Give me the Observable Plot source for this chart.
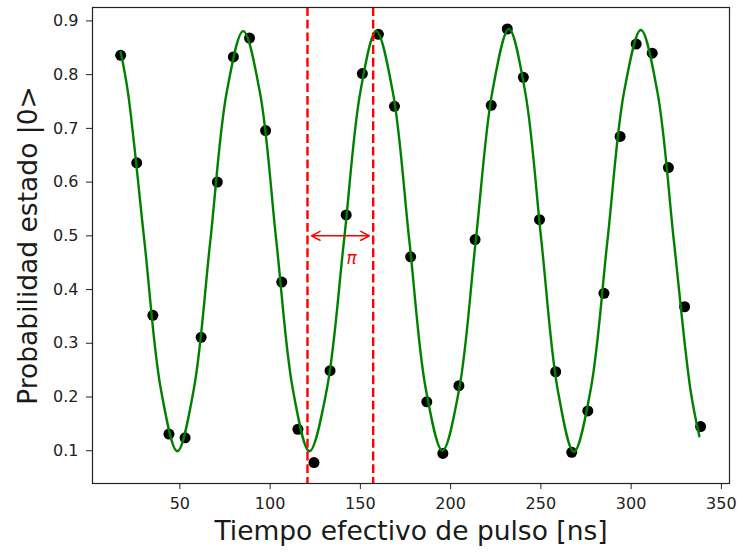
<!DOCTYPE html>
<html>
<head>
<meta charset="utf-8">
<script src="https://cdn.jsdelivr.net/npm/d3@7"></script>
<script src="https://cdn.jsdelivr.net/npm/@observablehq/plot@0.6"></script>
<style>
  html, body { margin: 0; padding: 0; background: #fff; }
</style>
</head>
<body>
<div id="chart"></div>
<script>
// Measured data points (pulse time in ns, probability of |0>)
const tiempo = [17.2, 26.1, 35.05, 43.95, 52.9, 61.8, 70.75, 79.65, 88.6, 97.5,
  106.45, 115.4, 124.3, 133.2, 142.15, 151.1, 160.0, 168.9, 177.85, 186.8,
  195.7, 204.6, 213.55, 222.5, 231.4, 240.3, 249.25, 258.2, 267.1, 276.0,
  284.95, 293.9, 302.8, 311.7, 320.65, 329.6, 338.5];
const probabilidad = [0.836, 0.636, 0.352, 0.131, 0.124, 0.311, 0.600, 0.833, 0.868, 0.696,
  0.414, 0.140, 0.078, 0.249, 0.539, 0.802, 0.875, 0.741, 0.461, 0.191,
  0.095, 0.221, 0.493, 0.743, 0.885, 0.795, 0.530, 0.247, 0.097, 0.174,
  0.393, 0.685, 0.857, 0.840, 0.627, 0.368, 0.145];

// Fit curve at peaks, troughs and intermediate phases
const ajusteX = [17.2, 21.2, 30.35, 39.5, 48.6,
  57.7, 66.85, 76.0, 85.1,
  94.3, 103.45, 112.6, 121.8,
  131.4, 140.9, 150.0, 158.8,
  167.95, 177.15, 186.3, 195.5,
  204.7, 213.9, 223.1, 232.3,
  241.3, 250.3, 259.3, 268.3,
  277.6, 286.85, 296.1, 305.4,
  314.55, 323.7, 332.85, 337.8];
const ajusteY = [0.842, 0.768, 0.490, 0.214, 0.099,
  0.214, 0.490, 0.768, 0.881,
  0.768, 0.490, 0.214, 0.099,
  0.214, 0.490, 0.768, 0.881,
  0.768, 0.490, 0.214, 0.100,
  0.214, 0.490, 0.768, 0.885,
  0.768, 0.490, 0.214, 0.098,
  0.214, 0.490, 0.768, 0.883,
  0.768, 0.490, 0.214, 0.127];

// Annotations
const lineasPi = [120.7, 157.1];
const flechaX = [122.9, 155.0];
const flechaY = 0.5;
const etiquetaPi = {x: 145.1, y: 0.458, text: "π"};

const xTicks = [50, 100, 150, 200, 250, 300, 350];
const yTicks = [0.1, 0.2, 0.3, 0.4, 0.5, 0.6, 0.7, 0.8, 0.9];
const xLabel = "Tiempo efectivo de pulso [ns]";
const yLabel = "Probabilidad estado |0>";

const puntos = tiempo.map((t, i) => ({t, p: probabilidad[i]}));
const ajuste = ajusteX.map((t, i) => ({t, p: ajusteY[i]}));
const mid = (flechaX[0] + flechaX[1]) / 2;

const chart = Plot.plot({
  width: 737,
  height: 552,
  marginLeft: 92,
  marginRight: 8,
  marginTop: 7,
  marginBottom: 69,
  style: {fontFamily: "DejaVu Sans", fontSize: "16px", color: "#222", background: "#fff"},
  x: {domain: [1.6, 354.5]},
  y: {domain: [0.039, 0.925]},
  marks: [
    Plot.axisX({ticks: xTicks, tickSize: 6, tickPadding: 8, label: null, fontSize: 16}),
    Plot.axisY({ticks: yTicks, tickFormat: d3.format(".1f"), tickSize: 6, tickPadding: 8, label: null, fontSize: 16}),
    Plot.dot(puntos, {x: "t", y: "p", r: 5.5, fill: "black", stroke: "none"}),
    Plot.line(ajuste, {x: "t", y: "p", stroke: "#008000", strokeWidth: 2.4, curve: "catmull-rom"}),
    Plot.ruleX(lineasPi, {stroke: "#ff0000", strokeWidth: 2.4, strokeDasharray: "8.9,3.8"}),
    Plot.arrow([0, 1], {x1: mid, y1: flechaY, x2: i => flechaX[i], y2: flechaY,
      stroke: "#ff0000", strokeWidth: 1.5, headLength: 10, headAngle: 55}),
    Plot.text([etiquetaPi], {x: "x", y: "y", text: "text", fill: "#ff0000", fontSize: 17, fontStyle: "italic"}),
    Plot.frame({stroke: "#222", strokeWidth: 1.2}),
    Plot.text([xLabel], {text: d => d, frameAnchor: "bottom", textAnchor: "middle", lineAnchor: "middle", dy: 48, fontSize: 26.5, fill: "#1a1a1a"}),
    Plot.text([yLabel], {text: d => d, frameAnchor: "left", textAnchor: "middle", lineAnchor: "middle", rotate: -90, dx: -64, fontSize: 26.5, fill: "#1a1a1a"})
  ]
});
document.getElementById("chart").appendChild(chart);
</script>
</body>
</html>
